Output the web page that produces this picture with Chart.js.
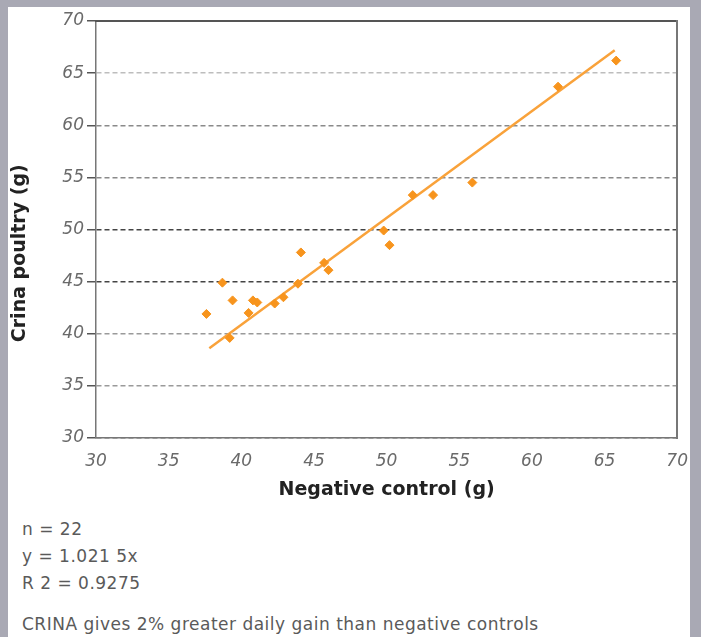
<!DOCTYPE html>
<html>
<head>
<meta charset="utf-8">
<script src="https://cdn.jsdelivr.net/npm/chart.js@4"></script>
<style>
  body { margin: 0; width: 701px; height: 637px; background: #a9a9b4; position: relative; overflow: hidden; }
  #panel { position: absolute; left: 8px; top: 7px; width: 682px; height: 630px; background: #fff; }
  #chart { position: absolute; left: 0; top: 0; }
  .note { position: absolute; left: 22px; font-family: "DejaVu Sans", sans-serif; font-size: 17px; letter-spacing: 0.5px; color: #5a5a5a; line-height: 27px; }
</style>
</head>
<body>
<div id="panel"></div>
<canvas id="chart" width="701" height="510"></canvas>
<div class="note" style="top: 516px;">n = 22<br>y = 1.021 5x<br>R 2 = 0.9275</div>
<div class="note" style="top: 611px;">CRINA gives 2% greater daily gain than negative controls</div>
<script>
const negativeControl = [37.6, 38.7, 39.4, 39.2, 40.5, 40.8, 41.1, 42.3, 42.9, 43.9, 44.1, 45.7, 46.0, 49.8, 50.2, 51.8, 53.2, 55.9, 61.8, 65.8];
const crinaPoultry = [41.9, 44.9, 43.2, 39.6, 42.0, 43.2, 43.0, 42.9, 43.5, 44.8, 47.8, 46.8, 46.1, 49.9, 48.5, 53.3, 53.3, 54.5, 63.7, 66.2];
const trendX = [37.8, 65.7];
const trendY = [38.6, 67.2];
const tickValues = [30, 35, 40, 45, 50, 55, 60, 65, 70];

const gridColors = { 70: "#555", 65: "#bdbdbd", 60: "#8a8a8a", 55: "#8a8a8a", 50: "#444", 45: "#444", 40: "#9a9a9a", 35: "#9a9a9a", 30: "#777" };
const orange = "#f7941d";
const tickFont = { family: "DejaVu Sans", size: 17, style: "italic" };
const titleFont = { family: "DejaVu Sans", size: 19, weight: "bold" };

const points = negativeControl.map((x, i) => ({ x: x, y: crinaPoultry[i] }));
const trend = trendX.map((x, i) => ({ x: x, y: trendY[i] }));

new Chart(document.getElementById("chart"), {
  type: "scatter",
  data: {
    datasets: [
      {
        type: "line",
        data: trend,
        borderColor: "#f9a23a",
        borderWidth: 2.5,
        pointRadius: 0,
        order: 2,
      },
      {
        data: points,
        backgroundColor: orange,
        borderColor: orange,
        pointStyle: "rectRot",
        pointRadius: 4.5,
        order: 1,
      },
    ],
  },
  options: {
    responsive: false,
    animation: false,
    layout: { padding: { left: 0, right: 23, top: 21, bottom: 0 } },
    plugins: { legend: { display: false }, tooltip: { enabled: false } },
    scales: {
      x: {
        type: "linear",
        min: 30,
        max: 70,
        afterBuildTicks: (s) => { s.ticks = tickValues.map((v) => ({ value: v })); },
        afterFit: (s) => { s.height = 72; },
        grid: { display: false, drawTicks: false },
        border: { display: true, color: "#777", width: 1.5, dash: [2, 2] },
        ticks: { color: "#6a6a6a", font: tickFont, padding: 13, maxRotation: 0 },
        title: { display: true, text: "Negative control (g)", color: "#222", font: titleFont, padding: { top: 0, bottom: 9 } },
      },
      y: {
        min: 30,
        max: 70,
        afterBuildTicks: (s) => { s.ticks = tickValues.map((v) => ({ value: v })); },
        afterFit: (s) => { s.width = 96; },
        grid: {
          color: (ctx) => gridColors[ctx.tick.value] || "#888",
          lineWidth: 1.5,
          tickLength: 9,
          tickColor: "#555",
        },
        border: { display: true, color: "#777", width: 1.5, dash: [5, 3] },
        ticks: { color: "#6a6a6a", font: tickFont, padding: 3 },
        title: { display: true, text: "Crina poultry (g)\u2003\u2003\u2002", color: "#222", font: titleFont, padding: { top: 9, bottom: 0 } },
      },
      x2: {
        type: "linear",
        position: "top",
        min: 30,
        max: 70,
        afterFit: (s) => { s.height = 0; },
        grid: { display: false, drawTicks: false },
        ticks: { display: false },
        border: { display: true, color: "#555", width: 2 },
      },
      y2: {
        position: "right",
        min: 30,
        max: 70,
        afterFit: (s) => { s.width = 0; },
        grid: { display: false, drawTicks: false },
        ticks: { display: false },
        border: { display: true, color: "#777", width: 2 },
      },
    },
  },
});
</script>
</body>
</html>
